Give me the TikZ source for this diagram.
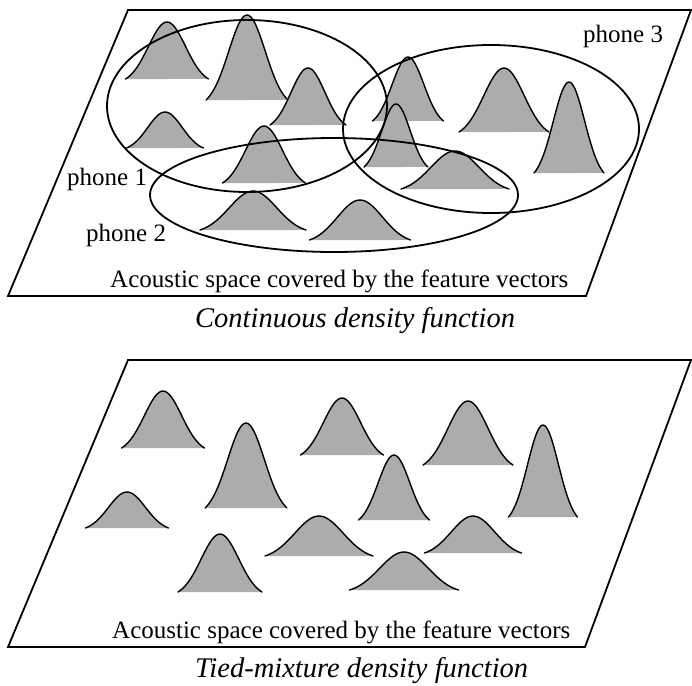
\documentclass[tikz,border=0pt]{standalone}
\usepackage{fontspec}
\setmainfont{Liberation Serif}
\definecolor{gfillc}{RGB}{172,172,172}
\tikzset{
  frame/.style={line width=1.8pt, line join=miter},
  cluster/.style={line width=1.8pt},
  gline/.style={line width=1.4pt, line join=round, line cap=round},
  gfill/.style={fill=gfillc},
  lbl/.style={anchor=base west, inner sep=0pt, font=\fontsize{25}{29}\selectfont},
  captxt/.style={anchor=base west, inner sep=0pt, font=\fontsize{28.5}{33}\selectfont\itshape}
}
\newcommand\gss[4]{%
  \fill[gfill] plot[domain=-1:1,samples=41,smooth] ({#1+#2*\x},{#3-#4*(exp(-2.5*\x*\x)-0.0821)/0.9179}) -- cycle;
  \draw[gline] plot[domain=-1:1,samples=41,smooth] ({#1+#2*\x},{#3-#4*(exp(-2.5*\x*\x)-0.0821)/0.9179});
}
\begin{document}
\begin{tikzpicture}[x=1pt,y=-1pt]
\useasboundingbox[fill=white] (0,0) rectangle (692,685);
% ---------- top panel ----------
\draw[frame] (128,10) -- (691,10) -- (586,296) -- (8,296) -- cycle;
\gss{167}{41.5}{79}{57}
\gss{247}{41}{100}{85}
\gss{408}{35.5}{121}{64}
\gss{308}{38}{125}{57}
\gss{504}{45}{132}{64}
\gss{165}{38.5}{148}{36}
\gss{396}{32}{167}{63}
\gss{569}{35}{173}{91}
\gss{264}{41.5}{183}{57}
\gss{455}{54}{189}{38}
\gss{253}{53}{230}{39}
\gss{360}{50.5}{240}{40}
\draw[cluster] (247,106) ellipse [x radius=140, y radius=86];
\draw[cluster] (334,195) ellipse [x radius=184, y radius=57];
\draw[cluster] (491,129) ellipse [x radius=148, y radius=84];
\node[lbl] (p1) at (67,185) {phone 1};
\node[lbl] (p2) at (86,241) {phone 2};
\node[lbl] (p3) at (583,42) {phone 3};
\node[lbl] (acA) at (110,287) {Acoustic space covered by the feature vectors};
\node[captxt] (capA) at (195,327) {Continuous density function};
% ---------- bottom panel ----------
\draw[frame] (128,360) -- (691,360) -- (585,647) -- (8,647) -- cycle;
\gss{163}{41.5}{448}{57}
\gss{342}{41.5}{455}{57}
\gss{468}{45}{465}{64}
\gss{246}{41}{508}{85}
\gss{543}{34.5}{517}{92}
\gss{394}{35.5}{520}{65}
\gss{127}{41.5}{528}{36}
\gss{473}{48.5}{553}{37}
\gss{319}{54}{556}{40}
\gss{404}{54.5}{590}{38}
\gss{220}{42}{592}{58}
\node[lbl] (acB) at (112,638) {Acoustic space covered by the feature vectors};
\node[captxt] (capB) at (195,677) {Tied-mixture density function};
\end{tikzpicture}
\end{document}
